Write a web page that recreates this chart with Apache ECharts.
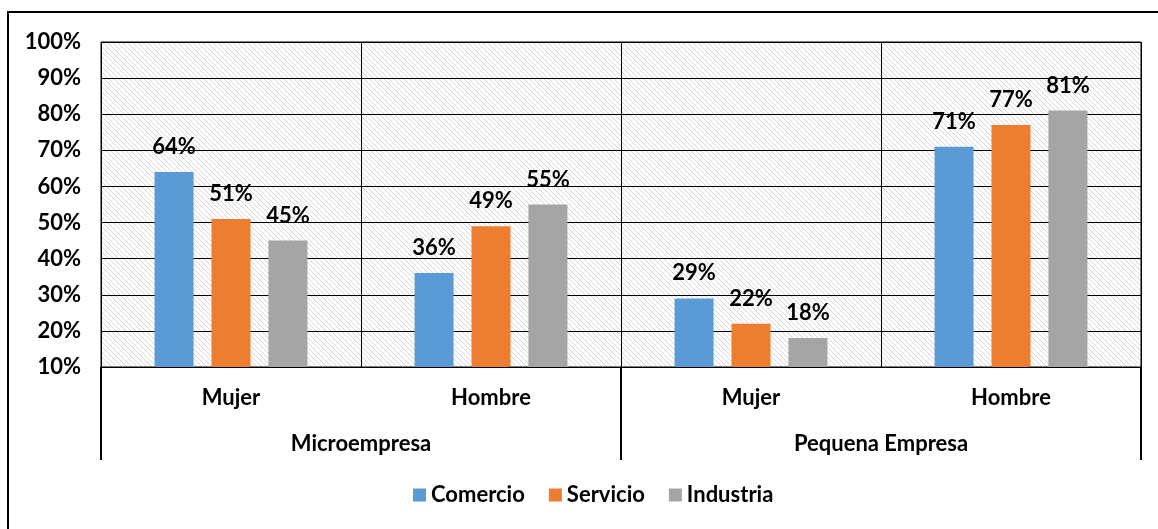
<!DOCTYPE html>
<html>
<head>
<meta charset="utf-8">
<script src="https://cdn.jsdelivr.net/npm/echarts@6/dist/echarts.min.js"></script>
<style>html,body{margin:0;padding:0;background:#fff}#c{width:1158px;height:529px}</style>
</head>
<body>
<div id="c"></div>
<script>
const categories = ['Mujer', 'Hombre', 'Mujer', 'Hombre'];
const groups = ['Microempresa', 'Pequena Empresa'];
const seriesNames = ['Comercio', 'Servicio', 'Industria'];
const comercio = [64, 36, 29, 71];
const servicio = [51, 49, 22, 77];
const industria = [45, 55, 18, 81];
const yMin = 10, yMax = 100, yStep = 10;

const colors = ['#5B9BD5', '#ED7D31', '#A5A5A5'];
const FONT = 'Lato';
const FS = 22;

// hatch pattern
const pc = document.createElement('canvas');
pc.width = 5; pc.height = 5;
const px = pc.getContext('2d');
px.fillStyle = '#fff'; px.fillRect(0, 0, 5, 5);
px.strokeStyle = '#d6d6d6'; px.lineWidth = 1;
px.beginPath();
px.moveTo(-1, -1); px.lineTo(6, 6);
px.moveTo(-1, 4); px.lineTo(1, 6);
px.moveTo(4, -1); px.lineTo(6, 1);
px.stroke();

const chart = echarts.init(document.getElementById('c'));
const dataSets = [comercio, servicio, industria];
const series = seriesNames.map((n, i) => ({
  name: n, type: 'bar', data: dataSets[i], xAxisIndex: 0,
  barWidth: 39, barGap: '46%',
  itemStyle: { color: colors[i] },
  label: { show: true, position: 'top', distance: 14, formatter: '{c}%',
    fontFamily: FONT, fontWeight: 'bold', fontSize: FS, color: '#000' }
}));

chart.setOption({
  animation: false,
  textStyle: { fontFamily: FONT },
  grid: { left: 101, right: 17, top: 42, bottom: 162, show: true,
    backgroundColor: { image: pc, repeat: 'repeat' }, borderColor: '#000', borderWidth: 1 },
  graphic: [{ type: 'rect', shape: { x: 8, y: 12, width: 1300, height: 700 },
    style: { fill: 'none', stroke: '#000', lineWidth: 2 }, silent: true, z: 100 }],
  legend: { bottom: 18, left: 408, itemWidth: 13, itemHeight: 13, itemGap: 24,
    icon: 'rect', data: seriesNames,
    textStyle: { fontFamily: FONT, fontWeight: 'bold', fontSize: FS, color: '#000' } },
  xAxis: [
    { type: 'category', data: categories, position: 'bottom',
      axisLine: { show: true, lineStyle: { color: '#000', width: 1 } },
      axisTick: { show: false },
      splitLine: { show: true, lineStyle: { color: '#000', width: 1 } },
      axisLabel: { margin: 20, fontFamily: FONT, fontWeight: 'bold', fontSize: FS, color: '#000' } },
    { type: 'category', data: groups, position: 'bottom', offset: 0,
      axisLine: { show: false },
      axisTick: { show: true, length: 93, alignWithLabel: false, lineStyle: { color: '#000', width: 2 } },
      axisLabel: { margin: 66, fontFamily: FONT, fontWeight: 'bold', fontSize: FS, color: '#000' } }
  ],
  yAxis: { type: 'value', min: yMin, max: yMax, interval: yStep,
    axisLine: { show: false }, axisTick: { show: false },
    splitLine: { show: true, lineStyle: { color: '#000', width: 1 } },
    axisLabel: { margin: 20, formatter: '{value}%', fontFamily: FONT, fontWeight: 'bold', fontSize: FS, color: '#000' } },
  series: series
});
</script>
</body>
</html>
